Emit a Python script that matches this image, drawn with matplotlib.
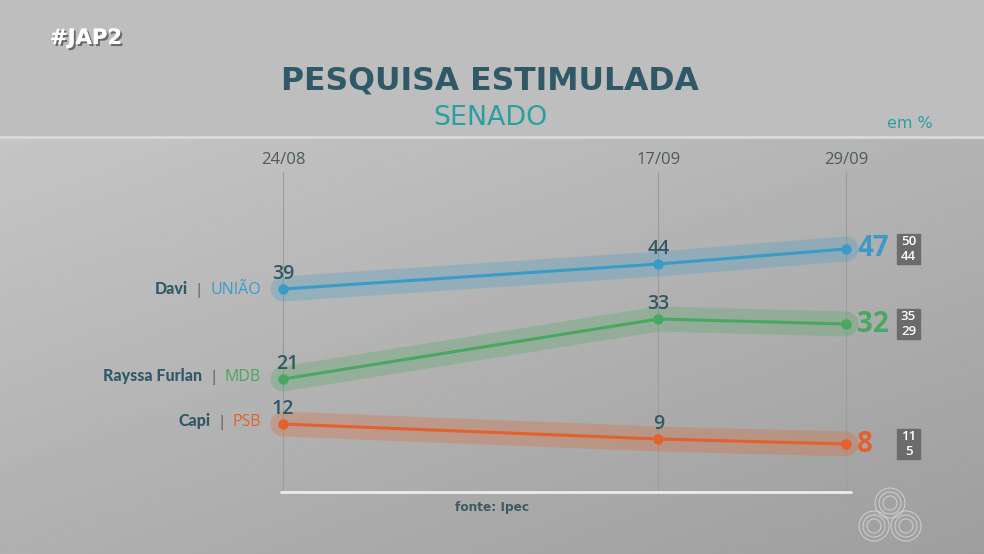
import datetime as dt
import numpy as np
import matplotlib
matplotlib.use("Agg")
import matplotlib.pyplot as plt
import matplotlib.patheffects as pe
from matplotlib import font_manager as fm
from matplotlib.patches import Rectangle, Ellipse
from matplotlib.offsetbox import TextArea, HPacker, AnnotationBbox

# data
dates = ["24/08", "17/09", "29/09"]
names = ["Davi", "Rayssa Furlan", "Capi"]
parties = ["UNIÃO", "MDB", "PSB"]
davi = [39, 44, 47]
rayssa = [21, 33, 32]
capi = [12, 9, 8]
upper = [50, 35, 11]
lower = [44, 29, 5]
colors = ["#3c9bc6", "#4aa760", "#e2612c"]

DARK = "#2f5966"
TEAL = "#2a9fa0"
W, H = 984, 554

# look for a narrow face, if any is installed
cond = [f.name for f in fm.fontManager.ttflist
        if f.stretch in ("condensed", "semi-condensed", "extra-condensed")
        or "Narrow" in f.name or "Condensed" in f.name]
NARROW = ([cond[0]] if cond else []) + ["Liberation Sans", "DejaVu Sans"]

d0 = dt.date(2022, 8, 24)
days = [(dt.date(2022, int(s[3:]), int(s[:2])) - d0).days for s in dates]

fig = plt.figure(figsize=(W / 100, H / 100), dpi=100)
renderer = fig.canvas.get_renderer()


def fit(t, width_px):
    # shrink a text until it is as wide as in the reference
    t.set_fontsize(t.get_fontsize() * width_px / t.get_window_extent(renderer).width)


# background
bg = fig.add_axes([0, 0, 1, 1])
bg.axis("off")
yy, xx = np.mgrid[0:1:200j, 0:1:300j]
grad = 0.80 - 0.11 * yy - 0.07 * xx
bg.imshow(grad, cmap="gray", vmin=0, vmax=1, extent=[0, 1, 0, 1],
          aspect="auto", origin="upper")
bg.add_patch(Rectangle((0, 1 - 136 / H), 1, 136 / H, color="#bdbebd", zorder=2))
bg.axhline(1 - 137 / H, color="#dadada", lw=2, zorder=3)
bg.set_xlim(0, 1)
bg.set_ylim(0, 1)

# main axes mapped so that day 0 -> x=283px, day 36 -> x=846px, value 0 -> y=484px
ax = fig.add_axes([0, 0, 1, 1], facecolor="none")
ax.axis("off")
ppd = (846 - 283) / 36
ax.set_xlim(-283 / ppd, 36 + (W - 846) / ppd)
ax.set_ylim(-(H - 484) / 5, 484 / 5)

for d in days:
    ax.axvline(d, ymin=(H - 492) / H, ymax=(H - 172) / H, color="#9c9c9c", lw=0.8, zorder=1)
ax.plot([days[0] - 0.1, days[-1] + 0.3], [-1.6, -1.6], color="#ececec", lw=2, zorder=1,
        solid_capstyle="round")

for i, d in enumerate(dates):
    fig.text((283 + days[i] * ppd) / W, 1 - 160 / H, d, ha="center", va="center",
             fontsize=12, color="#4e5a5e", family="Open Sans")

series = [davi, rayssa, capi]
for k, vals in enumerate(series):
    c = colors[k]
    ax.plot(days, vals, color=c, lw=18, alpha=0.28, solid_capstyle="round", zorder=2)
    ax.plot(days, vals, color=c, lw=2.2, marker="o", ms=6.5, zorder=3)
    for i in range(2):
        dx = 0 if not (k == 1 and i == 0) else 3
        ax.annotate(str(vals[i]), (days[i], vals[i]), xytext=(dx, 11),
                    textcoords="offset points", ha="center", va="center",
                    fontsize=14, color=DARK, family="Open Sans", fontweight="semibold")
    ax.annotate(str(vals[-1]), (days[-1], vals[-1]), xytext=(8, 0),
                textcoords="offset points", ha="left", va="center",
                fontsize=20, color=c, family="Open Sans", fontweight="bold")
    # range boxes
    bx = days[-1] + 51 / ppd
    bw = 23 / ppd
    for lab, y0 in [(upper[k], vals[-1] + 0.1), (lower[k], vals[-1] - 3.0)]:
        ax.add_patch(Rectangle((bx, y0), bw, 2.9, color="#6b6b6b", zorder=4))
        ax.text(bx + bw / 2, y0 + 1.45, str(lab), ha="center", va="center",
                fontsize=9.5, color="white", family="Open Sans",
                fontweight="semibold", zorder=5)
    # left labels
    box = HPacker(children=[
        TextArea(names[k], textprops=dict(fontsize=11.5, color=DARK, family="Lato",
                                          fontweight="black")),
        TextArea("|", textprops=dict(fontsize=11, color="#555555", family="Open Sans")),
        TextArea(parties[k], textprops=dict(fontsize=11.5, color=c, family="Open Sans")),
    ], sep=5, pad=0, align="baseline")
    ab = AnnotationBbox(box, (days[0], vals[0]), xybox=(-16, 1.5 if k else 0),
                        xycoords="data", boxcoords="offset points",
                        box_alignment=(1, 0.5), frameon=False)
    ax.add_artist(ab)

# header texts
t = fig.text(50 / W, 1 - 38 / H, "#JAP2", ha="left", va="center", fontsize=16,
             color="white", fontweight="bold", family=NARROW,
             path_effects=[pe.withSimplePatchShadow(offset=(1.5, -1.5),
                                                    shadow_rgbFace="#555555", alpha=0.8),
                           pe.Normal()])
fit(t, 72)
t = fig.text(490 / W, 1 - 81 / H, "PESQUISA ESTIMULADA", ha="center", va="center",
             fontsize=29, color=DARK, fontweight="bold", family=NARROW)
fit(t, 420)
t = fig.text(490 / W, 1 - 118 / H, "SENADO", ha="center", va="center", fontsize=22,
             color=TEAL, family=NARROW)
fit(t, 114)
t = fig.text(910 / W, 1 - 123 / H, "em %", ha="center", va="center", fontsize=12,
             color=TEAL, family=NARROW)
fit(t, 45)
t = fig.text(492 / W, 1 - 507 / H, "fonte: Ipec", ha="center", va="center", fontsize=11,
             color="#3d5a63", fontweight="bold", family=NARROW)
fit(t, 74)

# faint logo
for cx, cy in [(890, 503), (874, 526), (906, 526)]:
    for r in (15, 11, 7):
        bg.add_patch(Ellipse((cx / W, 1 - cy / H), 2 * r / W, 2 * r / H,
                             fill=False, ec="#dcdcdc", lw=0.8, alpha=0.7, zorder=4))

fig.savefig("out.png", dpi=100)
